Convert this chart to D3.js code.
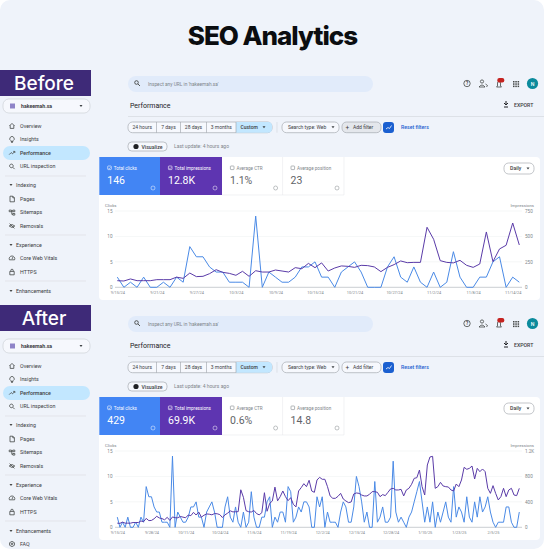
<!DOCTYPE html>
<html>
<head>
<meta charset="utf-8">
<script src="https://cdn.jsdelivr.net/npm/d3@7"></script>
<style>
html, body { margin: 0; padding: 0; background: #fff; }
svg { display: block; font-family: Roboto, sans-serif; }
.axis text { font-family: Roboto, sans-serif; fill: #80868b; }
.axis path, .axis line { display: none; }
</style>
</head>
<body>
<svg id="chart" width="544" height="549"></svg>
<script>
// Values
const beforeClicks = [2,0,1,0,2,0,0,1,0,2,1,8,6,6,4,3,3,1,1,1,0,14,0,3,2,1,1,2,4,4,5,2,2,0,3,4,5,3,0,0,0,4,6,2,1,4,1,0,3,0,1,7,2,0,0,2,2,5,6,0,2,1];
const beforeImpressions = [65,62,82,65,65,65,75,75,75,100,88,140,105,108,134,173,147,137,118,157,108,163,150,150,170,160,150,193,183,235,193,240,160,190,210,206,196,216,213,200,154,196,223,259,242,245,245,590,472,262,245,240,265,216,196,229,544,252,377,413,632,416];
const afterClicks = [2,0,1,0,2,0,0,1,0,2,1,8,6,6,4,3,3,1,1,1,0,14,0,3,2,1,1,2,4,4,5,2,2,0,3,4,5,3,0,0,0,4,6,2,1,4,1,0,3,0,1,7,2,0,0,2,2,5,6,0,2,1,3,3,1,8,7,1,2,4,3,5,5,4,0,0,6,4,6,0,3,1,1,1,0,3,5,4,1,1,4,10,8,5,1,3,0,0,9,1,2,4,1,1,2,13,3,1,2,1,0,2,3,5,7,9,5,1,4,1,5,0,3,1,3,5,2,1,8,2,4,3,1,6,2,1,5,2,6,3,4,6,3,1,0,1,1,1,4,4,1,0,0,3];
const afterImpressions = [65,62,82,65,65,65,75,75,75,100,88,140,105,108,134,173,147,137,118,157,108,163,150,150,170,160,150,193,183,235,193,240,160,190,210,206,196,216,213,200,154,196,223,259,242,245,245,590,472,262,245,240,265,216,196,229,544,252,377,413,632,416,482,571,482,419,466,362,320,571,624,686,639,739,571,550,744,786,755,755,639,493,456,456,487,534,445,414,388,398,524,540,534,508,493,493,519,561,561,550,482,514,498,550,603,613,587,587,597,493,587,613,676,770,780,901,639,508,980,1106,1116,613,639,707,650,639,634,587,571,681,639,744,943,912,927,964,760,927,875,917,875,613,534,655,534,430,482,613,482,587,613,508,498,613];

const beforeDates = ["9/15/24","9/21/24","9/27/24","10/3/24","10/9/24","10/15/24","10/21/24","10/27/24","11/2/24","11/8/24","11/14/24"];
const afterDates = ["9/15/24","9/28/24","10/11/24","10/24/24","11/6/24","11/19/24","12/2/24","12/15/24","12/28/24","1/10/25","1/23/25","2/5/25"];

const beforeTotals = ["146","12.8K","1.1%","23"];
const afterTotals = ["429","69.9K","0.6%","14.8"];
const cardLabels = ["Total clicks","Total impressions","Average CTR","Average position"];
const dateChips = ["24 hours","7 days","28 days","3 months","Custom"];
const navTop = ["Overview","Insights","Performance","URL inspection"];

const clicksTicks = [0,5,10,15];
const beforeImprTicks = [0,250,500,750];
const afterImprTicks = [0,400,800,1200];

// Small glyphs for the sidebar, drawn around 0,0
const navGlyphs = {
    "Overview": "M-2.6,0L0,-2.6L2.6,0M-1.8,-0.6V2.4H1.8V-0.6",
    "Insights": "M-1,1.2A2.2,2.2 0 1 1 1,1.2V2H-1ZM-0.8,3H0.8",
    "Performance": "M-2.8,1.6L-0.8,-0.4L0.6,0.8L2.6,-1.4M1.2,-1.6H2.8V0",
    "URL inspection": "M-0.6,-2.4A1.8,1.8 0 1 0 -0.59,-2.4ZM0.7,0.7L2.6,2.6",
    "Pages": "M-2,-2.8H0.8L2.4,-1.2V2.8H-2ZM0.8,-2.8V-1.2H2.4",
    "Sitemaps": "M-2.8,-2.4H-0.6V-0.8H-2.8ZM0.8,-2.4H2.8V-0.8H0.8ZM0.8,1H2.8V2.6H0.8ZM-0.6,-1.6H0.8M-0.2,-1.6V1.8H0.8",
    "Removals": "M-2.8,0Q0,-3 2.8,0Q0,3 -2.8,0ZM-2.4,-2.4L2.4,2.4",
    "Core Web Vitals": "M-2.6,1.8A2.8,2.8 0 1 1 2.6,1.8ZM0,1L1,-1",
    "HTTPS": "M-2.2,-0.6H2.2V2.8H-2.2ZM-1.2,-0.6V-1.6A1.2,1.2 0 0 1 1.2,-1.6V-0.6",
    "FAQ": "M0,-2.6L2.4,-1.3V1.3L0,2.6L-2.4,1.3V-1.3ZM0,-0.8A0.8,0.8 0 1 1 -0.01,-0.8",
};

const svg = d3.select("#chart");
const blue = "#4285f4", purple = "#5e35b1", ink = "#3c4043", gray = "#80868b";
const lineBlue = "#4a8ae6", linePurple = "#5a3ba8";

svg.append("rect").attr("width", 544).attr("height", 549).attr("rx", 10).attr("fill", "#eff3fa");

svg.append("text").attr("x", 272.5).attr("y", 44.5).attr("text-anchor", "middle")
    .attr("font-family", "Inter, sans-serif").attr("font-weight", 800).attr("font-size", 26)
    .attr("letter-spacing", -1).attr("fill", "#0b0d10").text("SEO Analytics");

function label(g, x, y, str, size, opts = {}) {
    return g.append("text").attr("x", x).attr("y", y).attr("dy", "0.35em")
        .attr("font-size", size).attr("fill", opts.fill || ink)
        .attr("font-weight", opts.weight || 400)
        .attr("text-anchor", opts.anchor || "start").text(str);
}

function caret(g, x, y, fill = ink) {
    g.append("path").attr("d", `M${x - 1.5},${y - 1}L${x + 1.5},${y - 1}L${x},${y + 1}Z`).attr("fill", fill);
}

function chip(g, x0, x1, y0, y1, fill = "#f6f8fd", stroke = "#9aa0a6") {
    g.append("rect").attr("x", x0).attr("y", y0).attr("width", x1 - x0).attr("height", y1 - y0)
        .attr("rx", (y1 - y0) / 2.4).attr("fill", fill).attr("stroke", stroke).attr("stroke-width", 0.6);
}

function navIcon(g, name, y) {
    g.append("path").attr("d", navGlyphs[name]).attr("transform", `translate(12,${y})`)
        .attr("fill", "none").attr("stroke", "#444746").attr("stroke-width", 0.8);
}

function drawSidebar(g, title, bannerY, offset, showFaq) {
    g.append("rect").attr("x", 0).attr("y", bannerY).attr("width", 91).attr("height", 26).attr("fill", "#3e2a78");
    g.append("text").attr("x", 44).attr("y", bannerY + 20).attr("text-anchor", "middle")
        .attr("font-family", "Inter, sans-serif").attr("font-weight", 500).attr("font-size", 19)
        .attr("fill", "#fff").text(title);

    chip(g, 3, 90, 99 + offset, 113 + offset, "#f6f8fd", "#c8ccd2");
    g.append("rect").attr("x", 10).attr("y", 103.5 + offset).attr("width", 5).attr("height", 5).attr("fill", "#8e84c8");
    label(g, 21, 106 + offset, "hakeemah.sa", 5.2, { weight: 700 });
    caret(g, 81, 106 + offset);

    g.append("rect").attr("x", 3).attr("y", 146 + offset).attr("width", 87).attr("height", 14)
        .attr("rx", 7).attr("fill", "#c2e7ff");
    const navY = [126, 139.5, 153, 166.5];
    navTop.forEach((t, i) => {
        navIcon(g, t, navY[i] + offset);
        label(g, 20, navY[i] + offset, t, 5.3, { weight: i === 2 ? 500 : 400 });
    });

    const sections = [
        { name: "Indexing", y: 185, items: ["Pages", "Sitemaps", "Removals"], itemY: [199, 212.5, 226] },
        { name: "Experience", y: 245, items: ["Core Web Vitals", "HTTPS"], itemY: [258, 272] },
        { name: "Enhancements", y: 291, items: showFaq ? ["FAQ"] : [], itemY: [304] },
    ];
    [176, 235, 281].forEach((y) => {
        g.append("line").attr("x1", 5).attr("x2", 86).attr("y1", y + offset).attr("y2", y + offset)
            .attr("stroke", "#dadce0").attr("stroke-width", 0.6);
    });
    sections.forEach((s) => {
        caret(g, 11, s.y + offset, "#444746");
        label(g, 16, s.y + offset, s.name, 5.3);
        s.items.forEach((t, i) => {
            navIcon(g, t, s.itemY[i] + offset);
            label(g, 20, s.itemY[i] + offset, t, 5.3);
        });
    });
}

function drawHeader(g, offset, addFill) {
    g.append("rect").attr("x", 128).attr("y", 76 + offset).attr("width", 245).attr("height", 16)
        .attr("rx", 8).attr("fill", "#e1ebfa");
    g.append("circle").attr("cx", 136.5).attr("cy", 82.5 + offset).attr("r", 1.8)
        .attr("fill", "none").attr("stroke", "#444746").attr("stroke-width", 0.9);
    g.append("line").attr("x1", 138).attr("y1", 84 + offset).attr("x2", 140).attr("y2", 86 + offset)
        .attr("stroke", "#444746").attr("stroke-width", 0.9);
    label(g, 148, 84 + offset, "Inspect any URL in 'hakeemah.sa'", 4.8, { fill: gray });

    // top right icons
    g.append("circle").attr("cx", 467).attr("cy", 83.5 + offset).attr("r", 3.2)
        .attr("fill", "none").attr("stroke", "#444746").attr("stroke-width", 0.8);
    label(g, 467, 83.7 + offset, "?", 4.5, { anchor: "middle", weight: 700 });
    g.append("circle").attr("cx", 482).attr("cy", 81.5 + offset).attr("r", 1.6)
        .attr("fill", "none").attr("stroke", "#444746").attr("stroke-width", 0.8);
    g.append("path").attr("d", `M479,${87 + offset}q3,-4 6,0zM485.5,${84 + offset}l2,1.5l-1,1.5`)
        .attr("fill", "none").attr("stroke", "#444746").attr("stroke-width", 0.8);
    g.append("path").attr("d", `M496.5,${87 + offset}h5l-1,-1v-3a1.5,1.5 0 0 0 -3,0v3z`)
        .attr("fill", "none").attr("stroke", "#444746").attr("stroke-width", 0.8);
    g.append("rect").attr("x", 497.3).attr("y", 78 + offset).attr("width", 7).attr("height", 4.5)
        .attr("rx", 2).attr("fill", "#c5221f");
    d3.range(3).forEach((r) => d3.range(3).forEach((c) => {
        g.append("rect").attr("x", 513 + c * 2.3).attr("y", 81 + offset + r * 2.3)
            .attr("width", 1.5).attr("height", 1.5).attr("fill", "#444746");
    }));
    g.append("circle").attr("cx", 532.5).attr("cy", 83.5 + offset).attr("r", 5.6).attr("fill", "#0b8a9c");
    label(g, 532.5, 83.7 + offset, "N", 5.2, { anchor: "middle", fill: "#fff", weight: 500 });

    label(g, 130, 106 + offset, "Performance", 7, { fill: "#202124" });
    g.append("path").attr("d", `M506,${101 + offset}v3.5m-2,-1.5l2,2l2,-2m-4,4h4`)
        .attr("fill", "none").attr("stroke", "#202124").attr("stroke-width", 1);
    label(g, 514, 105.5 + offset, "EXPORT", 5.2, { weight: 500 });
    g.append("line").attr("x1", 128).attr("x2", 544).attr("y1", 116.5 + offset).attr("y2", 116.5 + offset)
        .attr("stroke", "#d5d9de").attr("stroke-width", 0.7);

    // date chips
    chip(g, 128, 272, 122 + offset, 132.7 + offset);
    const edges = [128, 156.5, 180.5, 206.5, 236, 272];
    g.append("path").attr("d", `M236,${122 + offset}H268a4,4 0 0 1 4,4v2.7a4,4 0 0 1 -4,4H236Z`).attr("fill", "#c2e7ff");
    dateChips.forEach((t, i) => {
        if (i > 0) g.append("line").attr("x1", edges[i]).attr("x2", edges[i])
            .attr("y1", 122 + offset).attr("y2", 132.7 + offset).attr("stroke", "#9aa0a6").attr("stroke-width", 0.6);
        label(g, i === 4 ? 240.5 : (edges[i] + edges[i + 1]) / 2, 127.3 + offset, t, 5,
            { anchor: i === 4 ? "start" : "middle", weight: i === 4 ? 500 : 400 });
    });
    caret(g, 264, 127.3 + offset);
    g.append("line").attr("x1", 277).attr("x2", 277).attr("y1", 122 + offset).attr("y2", 132.7 + offset)
        .attr("stroke", "#d5d9de").attr("stroke-width", 0.7);

    chip(g, 282, 339, 122 + offset, 132.7 + offset);
    label(g, 288, 127.3 + offset, "Search type: Web", 5);
    caret(g, 333, 127.3 + offset);
    chip(g, 342, 381, 122 + offset, 132.7 + offset, addFill);
    label(g, 345.5, 127.3 + offset, "+", 6.5);
    label(g, 353, 127.3 + offset, "Add filter", 5);
    g.append("rect").attr("x", 383).attr("y", 122 + offset).attr("width", 11).attr("height", 11)
        .attr("rx", 3).attr("fill", "#1a5fd0");
    g.append("path").attr("d", `M386,${129 + offset}l2,-1.5l1.5,1l2,-3`).attr("fill", "none")
        .attr("stroke", "#fff").attr("stroke-width", 0.8);
    label(g, 401, 127.5 + offset, "Reset filters", 5.2, { fill: "#1a5fd0", weight: 500 });

    chip(g, 128, 167, 142 + offset, 151 + offset);
    g.append("circle").attr("cx", 136).attr("cy", 146.5 + offset).attr("r", 2.6).attr("fill", "#202124");
    label(g, 141.5, 146.7 + offset, "Visualize", 5.2, { weight: 500 });
    label(g, 174, 146.7 + offset, "Last update: 4 hours ago", 5, { fill: gray });
}

function drawCards(g, totals, offset) {
    g.append("rect").attr("x", 99).attr("y", 157 + offset).attr("width", 441).attr("height", 143)
        .attr("rx", 4).attr("fill", "#fff");
    const xs = [99.3, 160, 222, 282.6, 344];
    const fills = [blue, purple, "#fff", "#fff"];
    totals.forEach((v, i) => {
        const on = i < 2;
        const c = on ? "#fff" : gray;
        if (on) {
            g.append("rect").attr("x", xs[i]).attr("y", 157 + offset).attr("width", xs[i + 1] - xs[i])
                .attr("height", 38).attr("fill", fills[i]);
        } else {
            g.append("line").attr("x1", xs[i + 1]).attr("x2", xs[i + 1]).attr("y1", 157 + offset).attr("y2", 195 + offset)
                .attr("stroke", "#e8eaed").attr("stroke-width", 0.6);
        }
        g.append("rect").attr("x", xs[i] + 8.4).attr("y", 166 + offset).attr("width", 3.6).attr("height", 3.6)
            .attr("rx", 0.6).attr("fill", "none").attr("stroke", c).attr("stroke-width", 0.6);
        if (on) {
            g.append("path").attr("d", `M${xs[i] + 9.2},${168 + offset}l0.8,0.8l1.3,-1.5`)
                .attr("fill", "none").attr("stroke", "#fff").attr("stroke-width", 0.5);
        }
        label(g, xs[i] + 14.5, 168 + offset, cardLabels[i], 4.6, { fill: on ? "#fff" : gray });
        label(g, xs[i] + 8, 180 + offset, v, 10.5, { fill: on ? "#fff" : "#5f6368" });
        g.append("circle").attr("cx", xs[i + 1] - 7).attr("cy", 188 + offset).attr("r", 2)
            .attr("fill", "none").attr("stroke", c).attr("stroke-width", 0.5);
    });
    g.append("line").attr("x1", 222).attr("x2", 344).attr("y1", 195 + offset).attr("y2", 195 + offset)
        .attr("stroke", "#e8eaed").attr("stroke-width", 0.6);
    chip(g, 504, 534, 163 + offset, 174 + offset, "#fff");
    label(g, 510, 168.5 + offset, "Daily", 5.2, { weight: 500 });
    caret(g, 528, 168.5 + offset);
}

function drawChart(g, clicks, impressions, imprTicks, imprFormat, dates, step, offset) {
    const x = d3.scaleLinear().domain([0, clicks.length - 1]).range([117.3, 519.3]);
    const yClicks = d3.scaleLinear().domain([0, 15]).range([287.3 + offset, 211 + offset]);
    const yImpr = d3.scaleLinear().domain([0, imprTicks[3]]).range([287.3 + offset, 211 + offset]);

    clicksTicks.forEach((t) => {
        g.append("line").attr("x1", 115).attr("x2", 522).attr("y1", yClicks(t)).attr("y2", yClicks(t))
            .attr("stroke", t === 0 ? "#bdc1c6" : "#f1f3f4").attr("stroke-width", t === 0 ? 0.8 : 0.7);
    });

    const xAxis = d3.axisBottom(x).tickValues(dates.map((d, i) => i * step))
        .tickFormat((d) => dates[d / step]).tickSize(0).tickPadding(0);
    g.append("g").attr("class", "axis").attr("transform", `translate(0,${291.5 + offset})`)
        .call(xAxis).selectAll("text").attr("font-size", 3.9);
    g.append("g").attr("class", "axis").attr("transform", "translate(112.5,0)")
        .call(d3.axisLeft(yClicks).tickValues(clicksTicks).tickSize(0).tickPadding(0))
        .selectAll("text").attr("font-size", 4.6);
    g.append("g").attr("class", "axis").attr("transform", "translate(525,0)")
        .call(d3.axisRight(yImpr).tickValues(imprTicks).tickFormat(imprFormat).tickSize(0).tickPadding(0))
        .selectAll("text").attr("font-size", 4.6);
    label(g, 105, 205.5 + offset, "Clicks", 4.3, { fill: gray });
    label(g, 534, 205.5 + offset, "Impressions", 4.3, { fill: gray, anchor: "end" });

    const line = (y) => d3.line().x((d, i) => x(i)).y((d) => y(d));
    g.append("path").datum(clicks).attr("d", line(yClicks)).attr("fill", "none")
        .attr("stroke", lineBlue).attr("stroke-width", 1).attr("stroke-linejoin", "round");
    g.append("path").datum(impressions).attr("d", line(yImpr)).attr("fill", "none")
        .attr("stroke", linePurple).attr("stroke-width", 1).attr("stroke-linejoin", "round");
}

const before = svg.append("g");
drawSidebar(before, "Before", 70, 0, false);
drawHeader(before, 0, "#e4e7ec");
drawCards(before, beforeTotals, 0);
drawChart(before, beforeClicks, beforeImpressions, beforeImprTicks, (d) => d, beforeDates, 6, 0);

const after = svg.append("g");
drawSidebar(after, "After", 305, 240, true);
drawHeader(after, 240, "#f6f8fd");
drawCards(after, afterTotals, 240);
drawChart(after, afterClicks, afterImpressions, afterImprTicks, (d) => (d >= 1000 ? d / 1000 + "K" : d), afterDates, 13, 240);
</script>
</body>
</html>
